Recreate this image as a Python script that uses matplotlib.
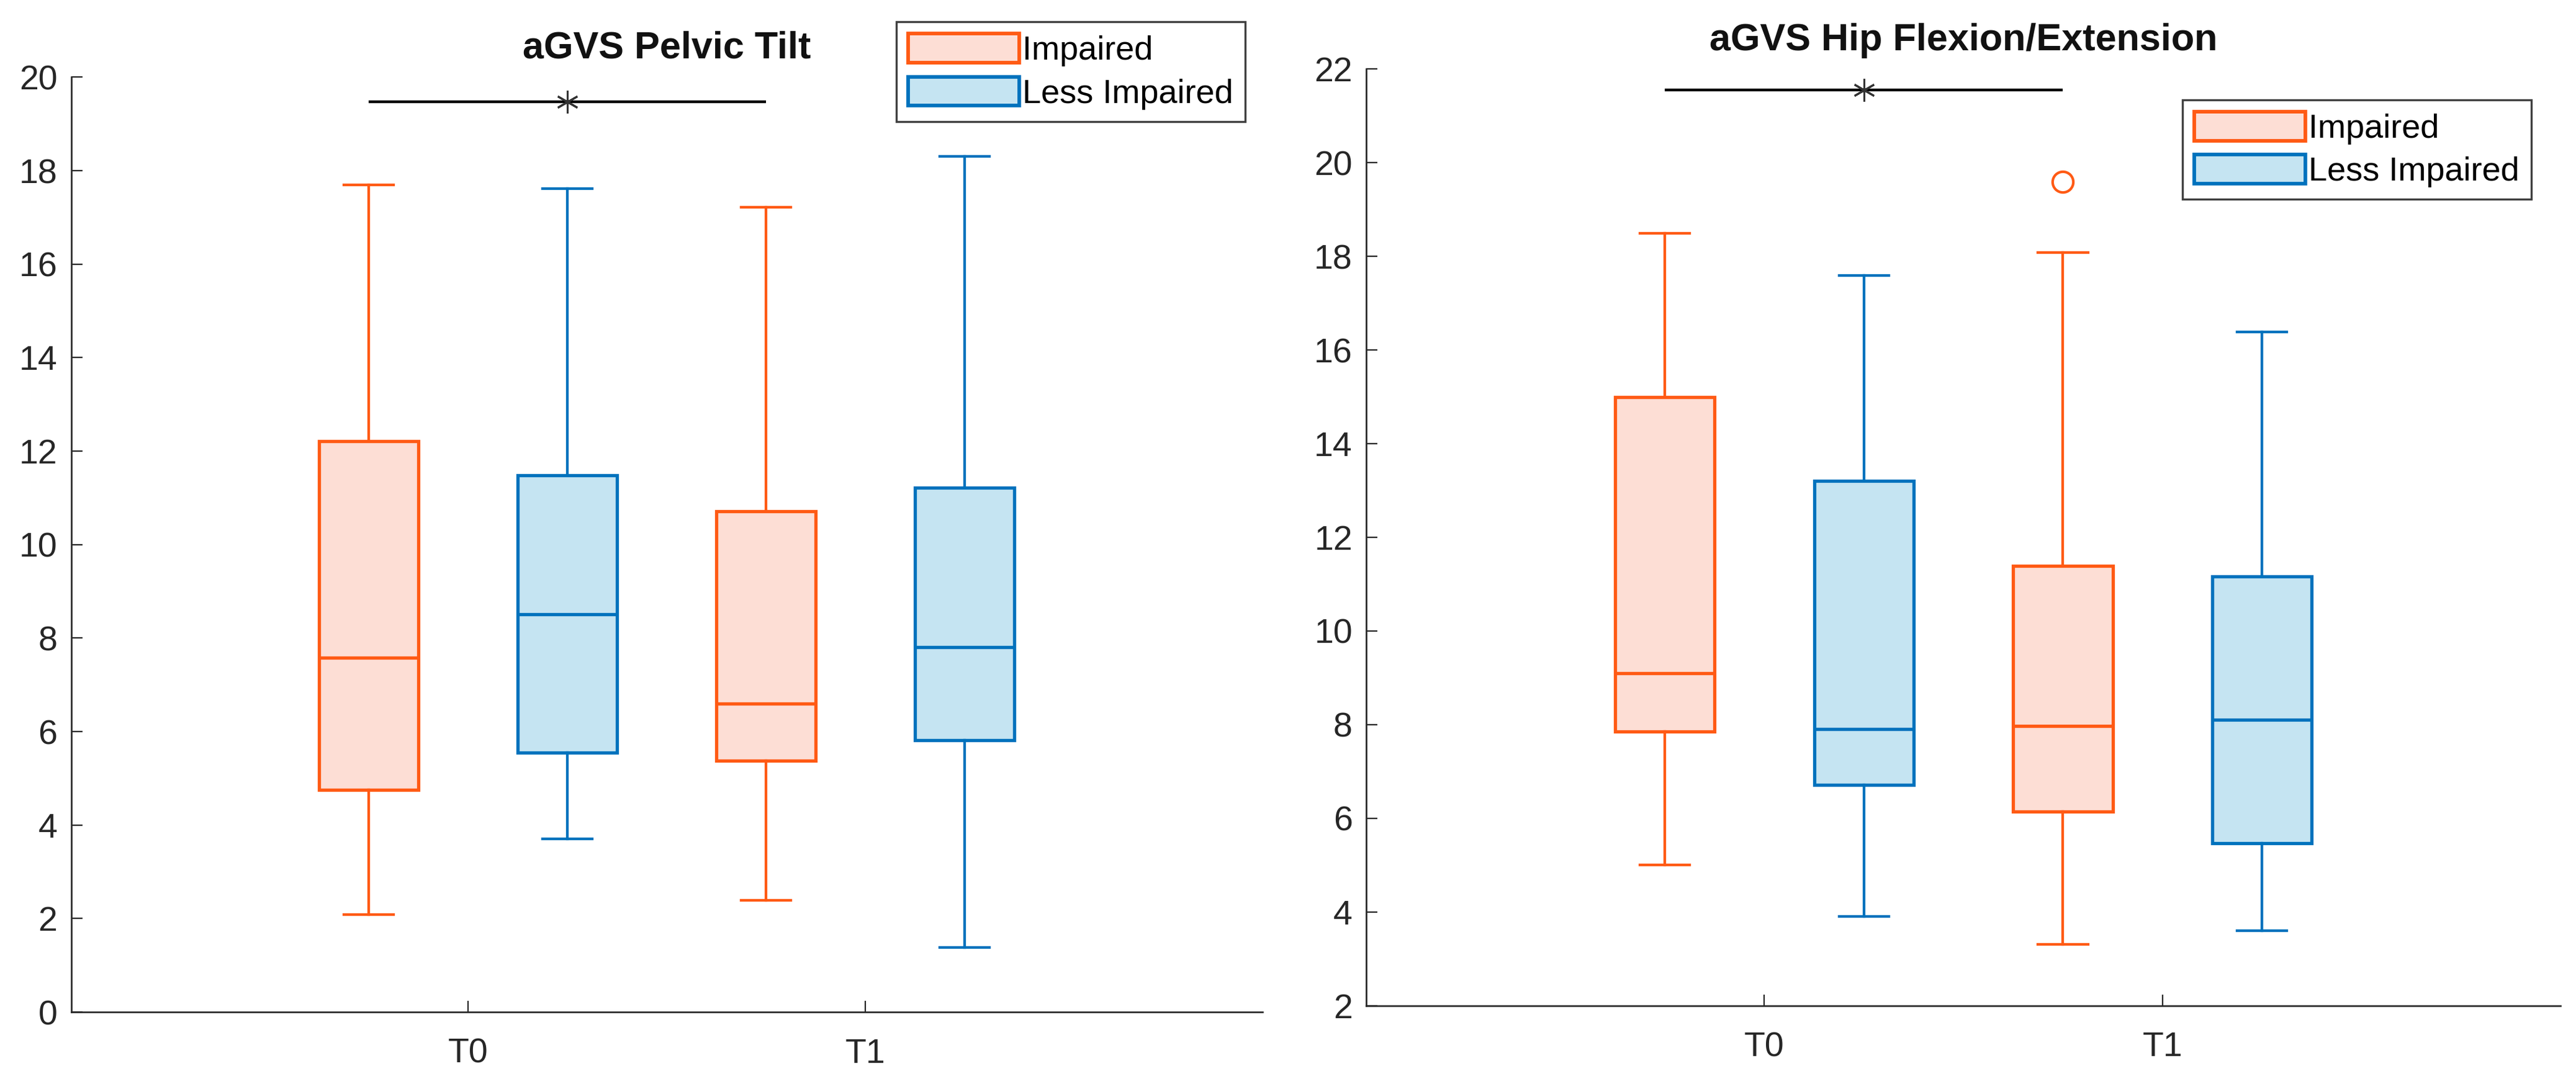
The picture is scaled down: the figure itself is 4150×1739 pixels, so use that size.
import matplotlib
matplotlib.use("Agg")
import matplotlib.pyplot as plt
from matplotlib.patches import Patch

plt.rcParams['font.family'] = ['Liberation Sans', 'DejaVu Sans']

# data: [T0 impaired, T0 less, T1 impaired, T1 less]
groups = ['Impaired', 'Less Impaired']
timepoints = ['T0', 'T1']

pelvic_whislo = [2.09, 3.70, 2.39, 1.38]
pelvic_q1 = [4.76, 5.55, 5.38, 5.82]
pelvic_med = [7.58, 8.51, 6.60, 7.81]
pelvic_q3 = [12.21, 11.49, 10.71, 11.22]
pelvic_whishi = [17.70, 17.61, 17.22, 18.31]
pelvic_fliers = [[], [], [], []]
pelvic_sig = 19.48

hip_whislo = [5.01, 3.91, 3.31, 3.60]
hip_q1 = [7.85, 6.72, 6.14, 5.47]
hip_med = [9.10, 7.91, 7.97, 8.10]
hip_q3 = [15.00, 13.20, 11.39, 11.16]
hip_whishi = [18.49, 17.59, 18.08, 16.39]
hip_fliers = [[], [], [19.59], []]
hip_sig = 21.56

positions = [0.75, 1.25, 1.75, 2.25]

orange = '#FF5A14'
orange_face = '#FDDED5'
blue = '#0072BD'
blue_face = '#C5E4F2'
axis_col = '#262626'
edge_cols = [orange, blue, orange, blue]
face_cols = [orange_face, blue_face, orange_face, blue_face]


def draw_panel(ax, title, whislo, q1, med, q3, whishi, fliers, sig, ylim, yticks):
    stats = []
    for i in range(len(med)):
        stats.append(dict(whislo=whislo[i], q1=q1[i], med=med[i], q3=q3[i],
                          whishi=whishi[i], fliers=fliers[i]))
    for i, st in enumerate(stats):
        c = edge_cols[i]
        ax.bxp([st], positions=[positions[i]], widths=0.25, capwidths=0.125,
               patch_artist=True, showfliers=True,
               boxprops=dict(facecolor=face_cols[i], edgecolor=c, linewidth=3.8),
               medianprops=dict(color=c, linewidth=3.8),
               whiskerprops=dict(color=c, linewidth=3.1, linestyle='-'),
               capprops=dict(color=c, linewidth=3.1),
               flierprops=dict(marker='o', markerfacecolor='none',
                               markeredgecolor=c, markersize=24,
                               markeredgewidth=3))
    # significance bar between T0 impaired and T1 impaired
    ax.plot([positions[0], positions[2]], [sig, sig], color='k', lw=3.2,
            clip_on=False, solid_capstyle='butt')
    ax.plot([positions[1]], [sig], marker=(6, 2, 0), color='#333333',
            markersize=26, markeredgewidth=2.2, clip_on=False)

    ax.set_xlim(0, 3)
    ax.set_ylim(*ylim)
    ax.set_yticks(yticks)
    ax.set_xticks([1, 2])
    ax.set_xticklabels(timepoints)
    ax.spines['top'].set_visible(False)
    ax.spines['right'].set_visible(False)
    for s in ['left', 'bottom']:
        ax.spines[s].set_linewidth(1.9)
        ax.spines[s].set_color(axis_col)
    ax.tick_params(axis='both', direction='in', length=13, width=1.6,
                   colors=axis_col, labelsize=40, labelcolor='#262626')
    ax.tick_params(axis='y', pad=16)
    ax.tick_params(axis='x', pad=30)
    ax.set_title(title, fontsize=44, fontweight='bold', pad=22, color='#111111')


fig = plt.figure(figsize=(41.5, 17.39), dpi=100)
ax1 = fig.add_axes([0.0276, 0.062, 0.4624, 0.8665])
ax2 = fig.add_axes([0.5304, 0.068, 0.4636, 0.868])

draw_panel(ax1, 'aGVS Pelvic Tilt', pelvic_whislo, pelvic_q1, pelvic_med,
           pelvic_q3, pelvic_whishi, pelvic_fliers, pelvic_sig,
           (0, 20), range(0, 21, 2))
draw_panel(ax2, 'aGVS Hip Flexion/Extension', hip_whislo, hip_q1, hip_med,
           hip_q3, hip_whishi, hip_fliers, hip_sig,
           (2, 22), range(2, 23, 2))

handles = [Patch(facecolor=orange_face, edgecolor=orange, linewidth=4.2),
           Patch(facecolor=blue_face, edgecolor=blue, linewidth=4.2)]
for anchor in [(0.4833, 0.9796), (0.9827, 0.9075)]:
    leg = fig.legend(handles, groups, loc='upper right', bbox_to_anchor=anchor,
                     bbox_transform=fig.transFigure, fontsize=39,
                     handlelength=3.3, handleheight=0.95, handletextpad=0.1,
                     labelspacing=0.3, borderpad=0.35, borderaxespad=0,
                     fancybox=False, framealpha=1, edgecolor='#404040')
    leg.get_frame().set_linewidth(2.4)

fig.savefig('out.png', dpi=100)
